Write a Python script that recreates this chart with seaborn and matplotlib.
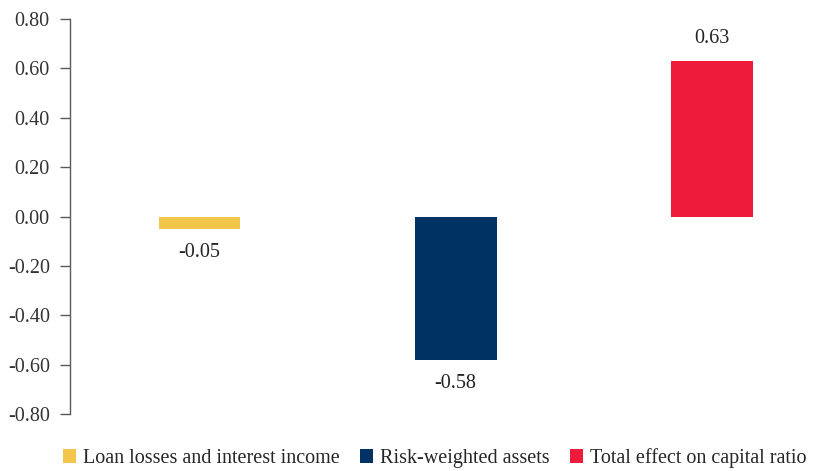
import matplotlib
matplotlib.use("Agg")
import matplotlib.pyplot as plt
import seaborn as sns
import pandas as pd
from matplotlib.patches import Patch

categories = ["Loan losses and interest income", "Risk-weighted assets", "Total effect on capital ratio"]
values = [-0.05, -0.58, 0.63]
colors = ["#F2C54B", "#003263", "#EE1C3B"]
yticks = [-0.80, -0.60, -0.40, -0.20, 0.00, 0.20, 0.40, 0.60, 0.80]

sns.set_theme(style="white")
plt.rcParams["font.family"] = ["Liberation Serif", "DejaVu Serif"]

df = pd.DataFrame({"category": categories, "value": values})

fig = plt.figure(figsize=(8.16, 4.71), dpi=100)
ax = fig.add_axes([70 / 816, 57 / 471, (816 - 70) / 816, (414 - 19) / 471])

sns.barplot(data=df, x="category", y="value", hue="category", order=categories,
            hue_order=categories, palette=colors, width=0.32, dodge=False,
            legend=False, saturation=1, linewidth=0, ax=ax)

ax.set_xlim(-0.506, 2.408)
ax.set_ylim(-0.8, 0.8)
ax.set_yticks(yticks)
ax.set_yticklabels([f"{t:.2f}" for t in yticks], fontsize=14.5, color="#333333")
ax.set_xticks([])
ax.set_xlabel("")
ax.set_ylabel("")
for s in ["top", "right", "bottom"]:
    ax.spines[s].set_visible(False)
ax.spines["left"].set_color("#595959")
ax.spines["left"].set_linewidth(1.0)
ax.tick_params(axis="y", left=True, length=7, width=1.0, color="#595959", pad=7.5)

for i, v in enumerate(values):
    off = 22 if v >= 0 else -24
    ax.annotate(f"{v:.2f}", xy=(i, v), xytext=(0, off), textcoords="offset pixels",
                ha="center", va="center", fontsize=14.5, color="#222222")

handles = [Patch(facecolor=c, edgecolor="none") for c in colors]
fig.legend(handles, categories, loc="center", bbox_to_anchor=(0.533, 0.027),
           ncol=3, frameon=False, fontsize=14.5, handlelength=0.65, handleheight=0.65,
           handletextpad=0.35, columnspacing=1.0, borderpad=0, borderaxespad=0)

fig.savefig("out.png", dpi=100)
